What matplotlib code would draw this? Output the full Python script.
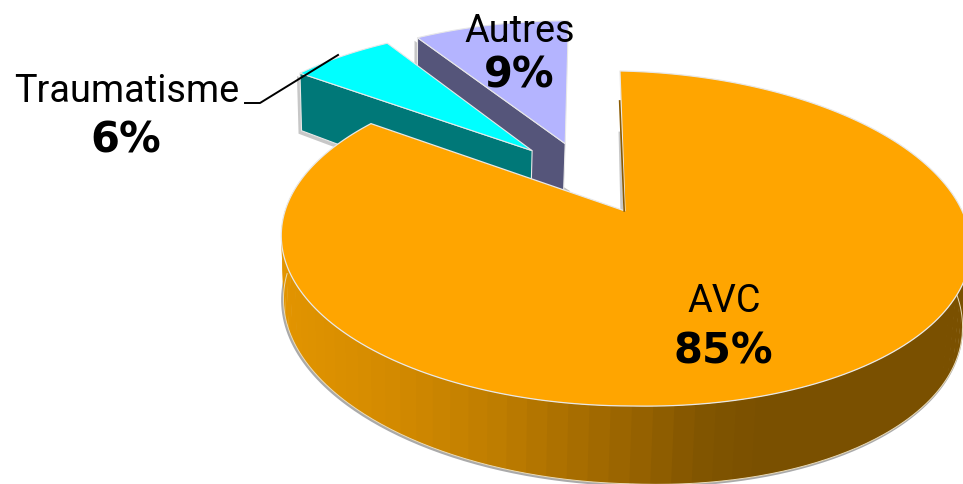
import numpy as np
import matplotlib
matplotlib.use("Agg")
import matplotlib.pyplot as plt
from matplotlib.patches import Polygon

categories = ["AVC", "Traumatisme", "Autres"]
values = [85, 6, 9]

top_colors = {"AVC": "#FFA500", "Traumatisme": "#00FFFF", "Autres": "#B4B4FF"}
wall_colors = {"Traumatisme": "#007878", "Autres": "#55557A"}
explode = {"AVC": (0.0, 0.0), "Traumatisme": (-0.284, 0.394), "Autres": (-0.181, 0.443)}
label_pos = {"AVC": (724, 302, 723, 349), "Traumatisme": (127, 92, 126, 138), "Autres": (520, 31, 519, 73)}

K = 0.164


def project(u, v, z=0.0):
    """Unit disc (u, v), z=0 top face, z=1 bottom face -> figure coordinates."""
    u, v = np.asarray(u, float), np.asarray(v, float)
    w = 1 + K * v
    a = 340 * (1 - 0.015 * z)
    b = 163 * (1 + 0.04 * z)
    X = a * u / w
    Y = b * v / w
    shear = 0.02 * np.maximum(X, 0) + 0.022 * z * X
    return 625 + X - 0.036 * Y - 3 * z, 212 + 70 * z - Y + shear


fig = plt.figure(figsize=(9.63, 4.85), dpi=100)
ax = fig.add_axes([0, 0, 1, 1])
ax.set_xlim(0, 963)
ax.set_ylim(485, 0)
ax.axis("off")

# wedge angles from the values, clockwise from 12 o'clock
angles = {}
start = 90.0
for c, val in zip(categories, values):
    end = start - val / sum(values) * 360
    angles[c] = (start, end)
    start = end


def top_poly(c):
    s, e = angles[c]
    ex, ey = explode[c]
    t = np.radians(np.linspace(s, e, 240))
    xs, ys = project(ex + np.cos(t), ey + np.sin(t))
    ax_, ay_ = project(ex, ey)
    return np.column_stack([np.r_[ax_, xs], np.r_[ay_, ys]])


def face(c, ang):
    ex, ey = explode[c]
    t = np.radians(ang)
    pts = []
    for r, z in [(0, 0), (1, 0), (1, 1), (0, 1)]:
        pts.append(project(ex + r * np.cos(t), ey + r * np.sin(t), z))
    return np.array(pts)


EDGE = "#E8E8E8"
for c in ["Autres", "Traumatisme"]:
    s, e = angles[c]
    # wedge wall on its cut edge, with soft shadow
    f = face(c, s)
    ax.add_patch(Polygon(f + [-3, 3], closed=True, fc="#999999", ec="none", alpha=0.55, zorder=1))
    ax.add_patch(Polygon(f, closed=True, fc=wall_colors[c], ec=EDGE, lw=0.8, zorder=2))
    ax.add_patch(Polygon(top_poly(c), closed=True, fc=top_colors[c], ec=EDGE, lw=0.8, zorder=3))
    if c == "Autres":
        tp = top_poly(c)
        ax.plot([tp[1, 0] + 2.5, tp[0, 0] + 2.5], [tp[1, 1] + 60, tp[0, 1] + 48],
                color="#BBBBBB", lw=2.5, zorder=1)

# orange side wall, banded shading
ts = np.arange(165, 372, 3.0)
shade_x = [285, 400, 500, 570, 640, 700, 760, 970]
shade_r = [226, 210, 190, 170, 150, 130, 122, 122]
for t0, t1 in zip(ts[:-1], ts[1:]):
    tt = np.radians(np.linspace(t0, t1 + 0.4, 6))
    xt, yt = project(np.cos(tt), np.sin(tt), 0)
    xb, yb = project(np.cos(tt), np.sin(tt), 1)
    r = np.interp(xt.mean(), shade_x, shade_r)
    col = (r / 255, r * 0.655 / 255, 0)
    ax.add_patch(Polygon(np.column_stack([np.r_[xt, xb[::-1]], np.r_[yt, yb[::-1]]]),
                         closed=True, fc=col, ec="none", zorder=4))
tt = np.radians(np.linspace(180, 372, 300))
xb, yb = project(np.cos(tt), np.sin(tt), 1)
ax.plot(xb - 1, yb + 1, color="#AAAAAA", lw=2, zorder=3.5)
ax.plot(xb, yb, color="#EADBB8", lw=0.7, zorder=5)

ax.add_patch(Polygon(top_poly("AVC"), closed=True, fc=top_colors["AVC"], ec=EDGE, lw=0.9, zorder=6))
# thin cut face sliver and shadow beside the start edge
tp = top_poly("AVC")
ax.plot([tp[1, 0] - 0.3, tp[0, 0] - 0.8], [tp[1, 1] + 30, tp[0, 1]], color="#8A5A00", lw=1.2, zorder=7)
ax.plot([tp[1, 0] + 0.0, tp[0, 0] - 3.2], [tp[1, 1] + 62, tp[0, 1]], color="#C8C8C8", lw=2, zorder=5.5)

# leader line
ax.plot([245, 260, 338], [104, 104, 56], color="black", lw=1.4, zorder=8)

# labels
for c, val in zip(categories, values):
    x0, y0, x1, y1 = label_pos[c]
    ax.text(x0, y0, c, family="Roboto", fontsize=27.3, ha="center", va="center", color="black", zorder=9)
    ax.text(x1, y1 + 3, f"{val}%", family="DejaVu Sans", fontweight="bold", fontsize=30,
            ha="center", va="center", color="black", zorder=9)

fig.savefig("out.png", dpi=100, facecolor="white")
